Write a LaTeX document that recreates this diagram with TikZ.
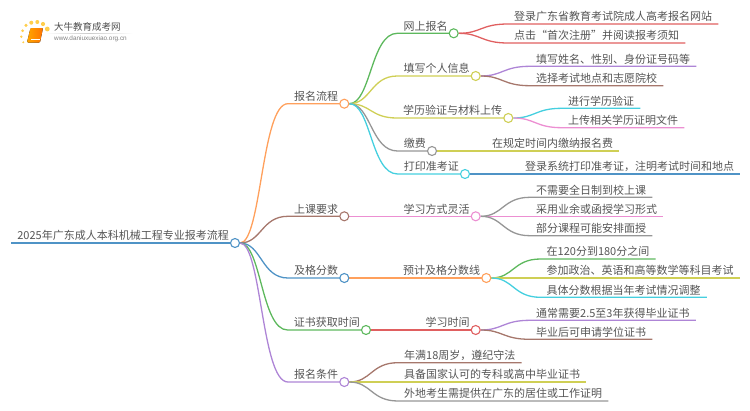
\documentclass[tikz,border=0pt]{standalone}
\usepackage{fontspec}
\setmainfont{Noto Sans CJK SC}
\setsansfont{Liberation Sans}
\usetikzlibrary{calc,backgrounds}

\definecolor{mblue}{HTML}{4F93C6}
\definecolor{morange}{HTML}{FFA05C}
\definecolor{mgreen}{HTML}{5DB85D}
\definecolor{mred}{HTML}{E05F60}
\definecolor{mpurple}{HTML}{AE85D6}
\definecolor{mbrown}{HTML}{A6776C}
\definecolor{mpink}{HTML}{EC8FD2}
\definecolor{mgray}{HTML}{969696}
\definecolor{molive}{HTML}{CFCF55}
\definecolor{mcyan}{HTML}{45CFDF}
\definecolor{mtext}{HTML}{555555}

\tikzset{
  lab/.style={font=\fontsize{11pt}{13pt}\selectfont,text=mtext,inner xsep=6pt,inner ysep=1pt,text height=9pt,text depth=2pt},
  dot/.style={circle,draw=#1,fill=white,line width=1.1pt,inner sep=0pt,minimum size=9pt},
  link/.style={draw=#1,line width=1.3pt},
  bough/.style={to path={let \p1=(\tikztostart),\p2=(\tikztotarget) in
    .. controls (\x1/2+\x2/2,\y1) and (\x1/2+\x2/2,\y2) .. (\p2)}}
}

\begin{document}
\begin{tikzpicture}[x=1pt,y=-1pt]
\useasboundingbox (0,0) rectangle (750,410);

% logo
\foreach \x/\y/\r in {23.3/42.3/1.1,21.3/36.7/1.3,22.7/30.7/1.5,26/25.3/1.7,31.3/22.7/2,37.3/22/2,43/24/2.1,47.3/29/2.4}{
    \fill[orange!55!yellow,opacity=.7] (\x,\y) circle (\r);}
\fill[rounded corners=1pt,left color=orange!70!yellow,right color=orange!90!red] (30.5,28)--(43,28)--(40,42.5)--(27,42.5)--cycle;
\draw[white,line width=.5pt] (31,39)--(40,39);
\shade[left color=white,right color=white,middle color=black!20] (45,33) rectangle (133,33.7);
\node[inner sep=0pt,anchor=west,text=black!70,font=\fontsize{9.5pt}{11pt}\selectfont] (logoname) at (54,27.3) {大牛教育成考网};
\node[inner sep=0pt,anchor=west,text=black!50,font=\sffamily\fontsize{6.4pt}{8pt}\selectfont] (logourl) at (54,38.7) {www.daniuxuexiao.org.cn};

% topics: each has a dot and its text ends there
\foreach \n/\x/\y/\c/\t in {
    root/235/243/mblue/2025年广东成人本科机械工程专业报考流程,
    baoming/344.3/103.7/morange/报名流程,
    wangshang/453.7/33.3/mgreen/网上报名,
    tianxie/475.7/76/molive/填写个人信息,
    xueli/508.3/118/molive/学历验证与材料上传,
    jiaofei/432/151/mgray/缴费,
    dayin/465/174/mcyan/打印准考证,
    shangke/344.3/216.3/mbrown/上课要求,
    fangshi/475.7/216.3/mpink/学习方式灵活,
    jige/344.3/278/mblue/及格分数,
    yuji/486.3/278/morange/预计及格分数线,
    zhengshu/366/330/mgreen/证书获取时间,
    shijian/475.7/330/mred/学习时间,
    tiaojian/344.3/382/mpurple/报名条件}{
    \node[dot=\c] (d\n) at (\x,\y) {};
    \node[lab,anchor=south east] (\n) at (d\n.center) {\t};}

% leaves
\foreach \n/\x/\y/\t in {
    denglu/508/24/登录广东省教育考试院成人高考报名网站,
    dianji/508/43/点击“首次注册”并阅读报考须知,
    xingming/530/66.3/填写姓名、性别、身份证号码等,
    didian/530/85.7/选择考试地点和志愿院校,
    yanzheng/562/108.3/进行学历验证,
    wenjian/562/127.7/上传相关学历证明文件,
    jiaona/486/151/在规定时间内缴纳报名费,
    zhunkao/519/174/登录系统打印准考证，注明考试时间和地点,
    quanri/530/197.3/不需要全日制到校上课,
    yeyu/530/216.3/采用业余或函授学习形式,
    mianshou/530/235.7/部分课程可能安排面授,
    fenshu/540.5/259/在120分到180分之间,
    kemu/540.5/278/参加政治、英语和高等数学等科目考试,
    tiaozheng/540.5/297.3/具体分数根据当年考试情况调整,
    biye/530/320.3/通常需要2.5至3年获得毕业证书,
    xuewei/530/339.3/毕业后可申请学位证书,
    nianman/398/362.7/年满18周岁，遵纪守法,
    zhuanke/398/382/具备国家认可的专科或高中毕业证书,
    waidi/398/401/外地考生需提供在广东的居住或工作证明}{
    \node[lab,anchor=south west] (\n) at (\x,\y) {\t};}

\begin{pgfonlayer}{background}
\draw[link=mblue,line width=2pt] (root.south west) -- (root.south east);
\foreach \up/\kid/\col in {
    droot/baoming/morange,droot/shangke/mbrown,droot/jige/mblue,droot/zhengshu/mgreen,droot/tiaojian/mpurple,
    dbaoming/wangshang/mgreen,dbaoming/tianxie/molive,dbaoming/xueli/molive,dbaoming/jiaofei/mgray,dbaoming/dayin/mcyan,
    dwangshang/denglu/mred,dwangshang/dianji/mred,
    dtianxie/xingming/mpurple,dtianxie/didian/mbrown,
    dxueli/yanzheng/mcyan,dxueli/wenjian/mpink,
    djiaofei/jiaona/molive,ddayin/zhunkao/mblue,
    dshangke/fangshi/mpink,
    dfangshi/quanri/mgray,dfangshi/yeyu/mpink,dfangshi/mianshou/mgray,
    djige/yuji/morange,
    dyuji/fenshu/mgreen,dyuji/kemu/molive,dyuji/tiaozheng/mcyan,
    dzhengshu/shijian/mred,
    dshijian/biye/mpurple,dshijian/xuewei/mbrown,
    dtiaojian/nianman/mbrown,dtiaojian/zhuanke/molive,dtiaojian/waidi/mgray}{
    \draw[link=\col] (\up) to[bough] (\kid.south west) -- (\kid.south east);}
\end{pgfonlayer}

\end{tikzpicture}
\end{document}
